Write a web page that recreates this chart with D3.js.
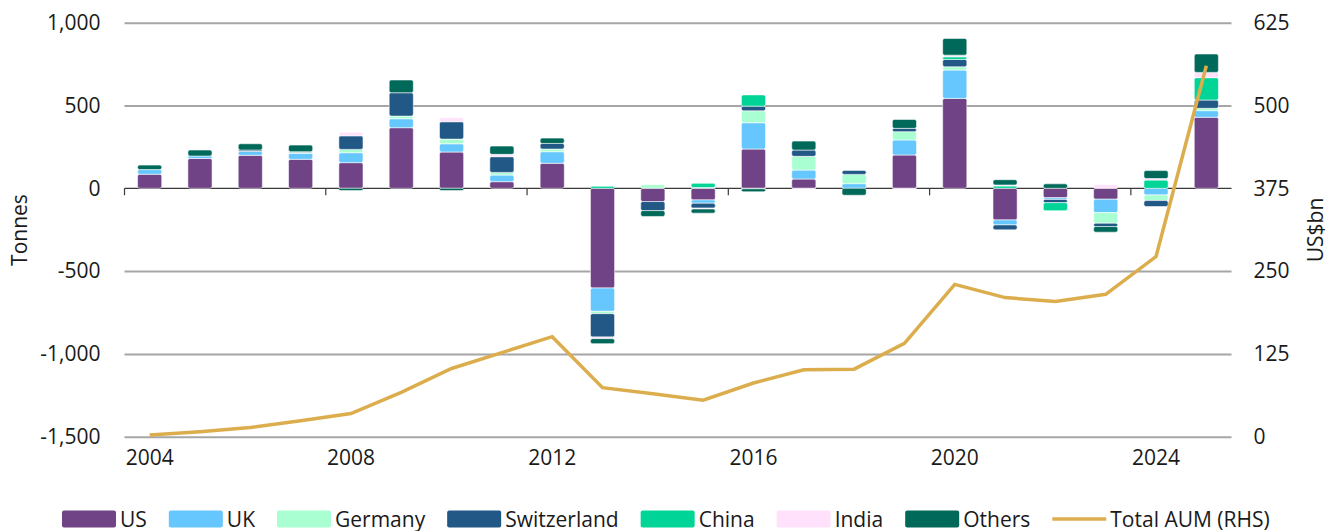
<!DOCTYPE html>
<html>
<head>
<meta charset="utf-8">
<script src="https://cdn.jsdelivr.net/npm/d3@7"></script>
<style>
  html, body { margin: 0; padding: 0; background: #fff; }
  svg { display: block; font-family: "Open Sans", "Noto Sans", sans-serif; }
</style>
</head>
<body>
<svg id="chart" width="1338" height="531"></svg>
<script>
// ---- data ----
const years = [2004,2005,2006,2007,2008,2009,2010,2011,2012,2013,2014,2015,2016,2017,2018,2019,2020,2021,2022,2023,2024,2025];
const seriesNames = ["US","UK","Germany","Switzerland","China","India","Others"];
const US          = [85,180,199,175,155,366,219,40,151,-602,-80,-70,237,56,0,201,543,-191,-57,-66,0,429];
const UK          = [28,15,24,36,60,54,50,40,70,-141,0,-20,159,54,28,91,171,-30,-10,-81,-40,40];
const Germany     = [0,0,0,5,20,16,28,16,16,-14,22,5,72,83,56,50,20,0,0,-64,-34,14];
const Switzerland = [0,0,8,5,82,141,105,95,34,-141,-55,-30,28,38,24,20,44,-30,-20,-20,-36,50];
const China       = [0,0,0,0,0,0,0,0,0,12,0,25,68,0,0,0,16,14,-48,0,50,135];
const India       = [0,0,0,0,22,0,24,14,0,-10,0,-5,-3,-6,0,-6,10,6,0,22,9,32];
const Others      = [27,36,38,40,-14,77,-14,50,32,-30,-35,-25,-18,54,-42,54,101,32,27,-34,48,111];
const totalAUM    = [2.6,7.5,14,24,35,67,103,127,151,74,65,55,81,101,102,141,230,210,204,215,272,560];
const leftTicks   = [-1500,-1000,-500,0,500,1000];
const rightTicks  = [0,125,250,375,500,625];
const yearLabels  = [2004,2008,2012,2016,2020,2024];
const lineName    = "Total AUM (RHS)";

const colors = {
  US: "#704386", UK: "#66c7fe", Germany: "#aaffd2", Switzerland: "#225885",
  China: "#00d496", India: "#ffe1fb", Others: "#00695a"
};
const lineColor = "#dcad4d";
const FS = 21;

// ---- build table ----
const seriesValues = {US, UK, Germany, Switzerland, China, India, Others};
const table = years.map((yr, i) => {
  const row = {year: yr};
  seriesNames.forEach(s => row[s] = seriesValues[s][i]);
  return row;
});

const svg = d3.select("#chart");
const plotL = 124.5, plotR = 1231.5, plotT = 22.7, plotB = 436.7;

const x = d3.scaleBand().domain(years).range([plotL, plotR]).padding(0);
const y = d3.scaleLinear().domain([-1500, 1000]).range([plotB, plotT]);
const y2 = d3.scaleLinear().domain([0, 625]).range([plotB, plotT]);

const fmt = d3.format(",");
// gridlines + left labels
const leftAxis = d3.axisLeft(y).tickValues(leftTicks).tickSize(-(plotR - plotL))
  .tickPadding(24).tickFormat(d => fmt(d).replace("\u2212", "-"));
const gL = svg.append("g").attr("transform", `translate(${plotL},0)`).call(leftAxis);
gL.select(".domain").remove();
gL.selectAll(".tick line").attr("stroke", "#a6a6a6").attr("stroke-width", 2)
  .attr("display", d => d === 0 ? "none" : null);
gL.selectAll(".tick text").attr("font-size", FS).attr("fill", "#1a1a1a")
  .attr("font-family", '"Open Sans", sans-serif');

const rightAxis = d3.axisRight(y2).tickValues(rightTicks).tickSize(0).tickPadding(22);
const gR = svg.append("g").attr("transform", `translate(${plotR},0)`).call(rightAxis);
gR.select(".domain").remove();
gR.selectAll(".tick text").attr("font-size", FS).attr("fill", "#1a1a1a")
  .attr("font-family", '"Open Sans", sans-serif');

// zero axis line
const y0 = y(0);
svg.append("line").attr("x1", plotL).attr("x2", plotR).attr("y1", y0).attr("y2", y0)
  .attr("stroke", "#3a3a3a").attr("stroke-width", 1.2);
// tick marks at category boundaries + year labels
yearLabels.forEach(yr => {
  const xb = x(yr);
  svg.append("line").attr("x1", xb).attr("x2", xb).attr("y1", y0).attr("y2", y0 + 7)
    .attr("stroke", "#3a3a3a").attr("stroke-width", 1.2);
  svg.append("text").attr("x", xb + x.bandwidth() / 2).attr("y", 465)
    .attr("text-anchor", "middle").attr("font-size", FS).attr("fill", "#1a1a1a")
    .text(yr);
});

// stacked bars
const stack = d3.stack().keys(seriesNames).offset(d3.stackOffsetDiverging);
const stacked = stack(table);
const barW = x.bandwidth() * 0.48;
const gBars = svg.append("g");
stacked.forEach(layer => {
  gBars.append("g").attr("fill", colors[layer.key])
    .selectAll("rect").data(layer.filter(d => d[1] - d[0] !== 0)).join("rect")
    .attr("x", d => x(d.data.year) + (x.bandwidth() - barW) / 2)
    .attr("width", barW)
    .attr("y", d => y(Math.max(d[0], d[1])))
    .attr("height", d => Math.abs(y(d[0]) - y(d[1])))
    .attr("rx", 2).attr("ry", 2)
    .attr("stroke", "#ffffff").attr("stroke-width", 0.8).attr("stroke-opacity", 0.7);
});

// AUM line
const line = d3.line()
  .x((d, i) => x(years[i]) + x.bandwidth() / 2)
  .y(d => y2(d));
svg.append("path").datum(totalAUM).attr("d", line)
  .attr("fill", "none").attr("stroke", lineColor).attr("stroke-width", 3.5)
  .attr("stroke-linejoin", "miter");

// axis titles
svg.append("text").attr("transform", "translate(27,230) rotate(-90)")
  .attr("text-anchor", "middle").attr("font-size", FS).attr("fill", "#1a1a1a").text("Tonnes");
svg.append("text").attr("transform", "translate(1323,230) rotate(-90)")
  .attr("text-anchor", "middle").attr("font-size", FS).attr("fill", "#1a1a1a").text("US$bn");

// legend
const legY = 519;
let cx = 62;
const gLeg = svg.append("g");
seriesNames.forEach(s => {
  gLeg.append("rect").attr("x", cx).attr("y", legY - 8.5).attr("width", 54).attr("height", 17)
    .attr("rx", 2).attr("fill", colors[s]);
  const t = gLeg.append("text").attr("x", cx + 58).attr("y", legY + 7.5)
    .attr("font-size", FS).attr("fill", "#1a1a1a").text(s);
  cx += 58 + t.node().getComputedTextLength() + 22;
});
gLeg.append("line").attr("x1", cx).attr("x2", cx + 54).attr("y1", legY).attr("y2", legY)
  .attr("stroke", lineColor).attr("stroke-width", 3.5);
gLeg.append("text").attr("x", cx + 58).attr("y", legY + 7.5)
  .attr("font-size", FS).attr("fill", "#1a1a1a").text(lineName);
</script>
</body>
</html>
